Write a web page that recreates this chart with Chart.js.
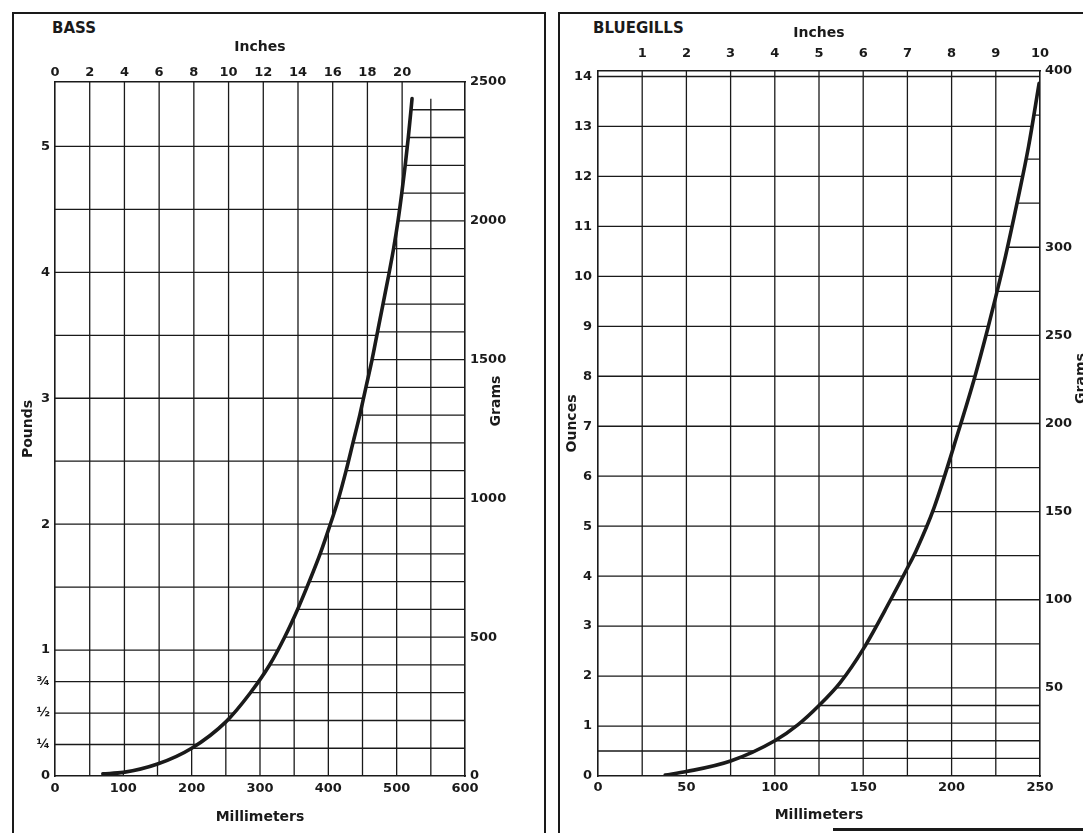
<!DOCTYPE html>
<html>
<head>
<meta charset="utf-8">
<script src="https://cdn.jsdelivr.net/npm/chart.js@4.4.1/dist/chart.umd.min.js"></script>
<style>
    html, body { margin: 0; padding: 0; background: #fff; width: 1083px; height: 833px; overflow: hidden; }
    .frame { position: absolute; border: 2.5px solid #1a1a1a; box-sizing: border-box; }
    .name { position: absolute; font: bold 15px "DejaVu Sans", sans-serif; color: #1a1a1a; line-height: 18px; }
    canvas { position: absolute; }
</style>
</head>
<body>
<div class="frame" style="left:12px; top:12px; width:534px; height:840px;"></div>
<div class="frame" style="left:558px; top:12px; width:560px; height:840px;"></div>
<div style="position:absolute; left:833px; top:828px; width:260px; height:2.5px; background:#1a1a1a;"></div>
<div class="name" style="left:52px; top:19px;">BASS</div>
<div class="name" style="left:593px; top:19px;">BLUEGILLS</div>
<canvas id="bassChart" width="528" height="818" style="left:15px; top:15px;"></canvas>
<canvas id="bluegillChart" width="540" height="818" style="left:560px; top:15px;"></canvas>
<script>
// values (length in mm, weight in grams)
var bassLengthMm = [70, 100, 150, 200, 250, 286, 314, 336, 355, 372, 388, 402, 415, 426, 436, 446, 455, 464, 472, 480, 488, 495.5, 502, 507.5, 512.5, 517, 521, 522.5];
var bassWeightG = [8, 13, 43, 100, 195, 300, 400, 500, 600, 700, 800, 900, 1000, 1100, 1200, 1300, 1400, 1500, 1600, 1700, 1800, 1900, 2000, 2100, 2200, 2300, 2400, 2440];

var bluegillLengthMm = [38, 50, 75, 100, 113, 125, 137, 150, 165, 175, 180, 190, 204, 213, 220.5, 225, 230.5, 237, 243.5, 249.5];
var bluegillWeightG = [0.5, 2.5, 8.5, 20, 29, 40, 53, 72, 99, 118, 128, 152, 196, 226, 254, 272, 295, 325, 357, 393];

// tick labels
var bassMmTicks = [0, 100, 200, 300, 400, 500, 600];
var bassInchTicks = [0, 2, 4, 6, 8, 10, 12, 14, 16, 18, 20];
var bassPoundTicks = [0, 0.25, 0.5, 0.75, 1, 2, 3, 4, 5];
var bassPoundLabels = ['0', '¼', '½', '¾', '1', '2', '3', '4', '5'];
var bassGramTicks = [0, 500, 1000, 1500, 2000, 2500];

var bluegillMmTicks = [0, 50, 100, 150, 200, 250];
var bluegillInchTicks = [1, 2, 3, 4, 5, 6, 7, 8, 9, 10];
var bluegillOunceTicks = [0, 1, 2, 3, 4, 5, 6, 7, 8, 9, 10, 11, 12, 13, 14];
var bluegillGramTicks = [50, 100, 150, 200, 250, 300, 400];

// grid lines: pounds/ounces + inches above the curve, grams + mm below it
var bassPoundGrid = [0.25, 0.5, 0.75, 1, 1.5, 2, 2.5, 3, 3.5, 4, 4.5, 5];
var bassInchGrid = [2, 4, 6, 8, 10, 12, 14, 16, 18, 20];
var bassGramGrid = [100, 200, 300, 400, 500, 600, 700, 800, 900, 1000, 1100, 1200, 1300, 1400, 1500, 1600, 1700, 1800, 1900, 2000, 2100, 2200, 2300, 2400];
var bassMmGrid = [50, 100, 150, 200, 250, 300, 350, 400, 450, 500, 550];

var bluegillOunceGrid = [0.5, 1, 2, 3, 4, 5, 6, 7, 8, 9, 10, 11, 12, 13, 14];
var bluegillInchGrid = [1, 2, 3, 4, 5, 6, 7, 8, 9];
var bluegillGramGrid = [10, 20, 30, 40, 50, 75, 100, 125, 150, 175, 200, 225, 250, 275, 300, 325, 350, 375];
var bluegillMmGrid = [25, 50, 75, 100, 125, 150, 175, 200, 225];

var GRAMS_PER_POUND = 453.592;
var GRAMS_PER_OUNCE = 28.3495;
var MM_PER_INCH = 25.4;
var INK = '#1a1a1a';
var tickFont = { family: '"DejaVu Sans", sans-serif', size: 13, weight: 'bold' };
var titleFont = { family: '"DejaVu Sans", sans-serif', size: 14, weight: 'bold' };

function fixedTicks(values) {
    return function(scale) {
        scale.ticks = values.map(function(v) { return { value: v }; });
    };
}

function fixedSize(prop, size) {
    return function(scale) { scale[prop] = size; };
}

// grid split by the curve: one set of lines on each side of it
var splitGrid = {
    id: 'splitGrid',
    beforeDatasetsDraw: function(chart, args, opts) {
        var ctx = chart.ctx, a = chart.chartArea;
        var pts = chart.getDatasetMeta(0).data;

        function upperRegion() {
            ctx.moveTo(a.left, a.top);
            ctx.lineTo(a.left, a.bottom);
            ctx.lineTo(pts[0].x, a.bottom);
            ctx.lineTo(pts[0].x, pts[0].y);
            for (var i = 1; i < pts.length; i++) {
                var p = pts[i - 1], q = pts[i];
                ctx.bezierCurveTo(p.cp2x, p.cp2y, q.cp1x, q.cp1y, q.x, q.y);
            }
            var last = pts[pts.length - 1];
            ctx.lineTo(a.right, last.y);
            ctx.lineTo(a.right, a.top);
            ctx.closePath();
        }

        function lines(vertical, scale, values) {
            ctx.beginPath();
            values.forEach(function(v) {
                var px = scale.getPixelForValue(v);
                if (vertical) { ctx.moveTo(px, a.top); ctx.lineTo(px, a.bottom); }
                else { ctx.moveTo(a.left, px); ctx.lineTo(a.right, px); }
            });
            ctx.stroke();
        }

        ctx.save();
        ctx.strokeStyle = INK;
        ctx.lineWidth = 1.3;

        ctx.save();
        ctx.beginPath();
        upperRegion();
        ctx.clip();
        lines(false, chart.scales.yL, opts.leftRows);
        lines(true, chart.scales.xTop, opts.topCols);
        ctx.restore();

        ctx.save();
        ctx.beginPath();
        ctx.rect(a.left, a.top, a.right - a.left, a.bottom - a.top);
        upperRegion();
        ctx.clip('evenodd');
        lines(false, chart.scales.yR, opts.rightRows);
        lines(true, chart.scales.x, opts.bottomCols);
        ctx.restore();

        ctx.restore();
    }
};

// rotated title next to the right hand axis, read bottom to top
var rightTitle = {
    id: 'rightTitle',
    afterDraw: function(chart, args, opts) {
        var s = chart.scales.yR, a = chart.chartArea, ctx = chart.ctx;
        ctx.save();
        ctx.translate(s.right - opts.offset, (a.top + a.bottom) / 2 + opts.dy);
        ctx.rotate(-Math.PI / 2);
        ctx.font = 'bold 14px "DejaVu Sans", sans-serif';
        ctx.fillStyle = INK;
        ctx.textAlign = 'center';
        ctx.textBaseline = 'middle';
        ctx.fillText(opts.text, 0, 0);
        ctx.restore();
    }
};

function axisBorder() {
    return { display: true, color: INK, width: 1.6 };
}

function makeChart(id, s) {
    var points = s.lengths.map(function(x, i) { return { x: x, y: s.weights[i] }; });
    return new Chart(document.getElementById(id).getContext('2d'), {
        type: 'line',
        data: {
            datasets: [{
                data: points,
                xAxisID: 'x',
                yAxisID: 'yR',
                borderColor: INK,
                borderWidth: 3.6,
                borderCapStyle: 'round',
                pointRadius: 0,
                cubicInterpolationMode: 'monotone',
                fill: false
            }]
        },
        plugins: [splitGrid, rightTitle],
        options: {
            responsive: false,
            animation: false,
            events: [],
            layout: { padding: 0 },
            plugins: {
                legend: { display: false },
                tooltip: { enabled: false },
                splitGrid: s.grid,
                rightTitle: s.rightTitle
            },
            scales: {
                x: {
                    type: 'linear', position: 'bottom', min: 0, max: s.mmMax,
                    afterBuildTicks: fixedTicks(s.mmTicks),
                    afterFit: fixedSize('height', s.bottomH),
                    grid: { display: false, drawTicks: false },
                    border: axisBorder(),
                    ticks: { color: INK, font: tickFont, padding: s.bottomPad, autoSkip: false, maxRotation: 0 },
                    title: { display: true, text: 'Millimeters', color: INK, font: titleFont, padding: { top: 0, bottom: s.mmTitlePad } }
                },
                xTop: {
                    type: 'linear', position: 'top', min: 0, max: s.inchMax,
                    afterBuildTicks: fixedTicks(s.inchTicks),
                    afterFit: fixedSize('height', s.topH),
                    grid: { display: false, drawTicks: false },
                    border: axisBorder(),
                    ticks: { color: INK, font: tickFont, padding: s.topPad, autoSkip: false, maxRotation: 0 },
                    title: { display: true, text: 'Inches', color: INK, font: titleFont, padding: { top: s.inchTitlePad, bottom: 0 } }
                },
                yL: {
                    type: 'linear', position: 'left', min: 0, max: s.leftMax,
                    afterBuildTicks: fixedTicks(s.leftTicks),
                    afterFit: fixedSize('width', s.leftW),
                    grid: { display: false, drawTicks: false },
                    border: axisBorder(),
                    ticks: {
                        color: INK, font: tickFont, padding: s.leftPad, autoSkip: false,
                        callback: function(v, i) { return s.leftLabels ? s.leftLabels[i] : String(v); }
                    },
                    title: { display: true, text: s.leftTitle, color: INK, font: titleFont, padding: { top: s.leftTitlePad, bottom: 0 } }
                },
                yR: {
                    type: 'linear', position: 'right', min: 0, max: s.gramMax,
                    afterBuildTicks: fixedTicks(s.gramTicks),
                    afterFit: fixedSize('width', s.rightW),
                    grid: { display: false, drawTicks: false },
                    border: axisBorder(),
                    ticks: {
                        color: INK, font: tickFont, padding: s.rightPad, autoSkip: false,
                        callback: function(v) { return String(v); }
                    }
                }
            }
        }
    });
}

var bassChart = makeChart('bassChart', {
    lengths: bassLengthMm, weights: bassWeightG,
    mmMax: 600, mmTicks: bassMmTicks,
    inchMax: 600 / MM_PER_INCH, inchTicks: bassInchTicks,
    leftMax: 2500 / GRAMS_PER_POUND, leftTicks: bassPoundTicks, leftLabels: bassPoundLabels, leftTitle: 'Pounds',
    gramMax: 2500, gramTicks: bassGramTicks,
    leftW: 40, rightW: 78, topH: 67, bottomH: 57,
    bottomPad: 5, topPad: 2, leftPad: 5, rightPad: 5,
    mmTitlePad: 7, inchTitlePad: 24, leftTitlePad: 5,
    grid: { leftRows: bassPoundGrid, topCols: bassInchGrid, rightRows: bassGramGrid, bottomCols: bassMmGrid },
    rightTitle: { text: 'Grams', offset: 47, dy: -28 }
});

var bluegillChart = makeChart('bluegillChart', {
    lengths: bluegillLengthMm, weights: bluegillWeightG,
    mmMax: 250, mmTicks: bluegillMmTicks,
    inchMax: 10, inchTicks: bluegillInchTicks,
    leftMax: 400 / GRAMS_PER_OUNCE, leftTicks: bluegillOunceTicks, leftLabels: null, leftTitle: 'Ounces',
    gramMax: 400, gramTicks: bluegillGramTicks,
    leftW: 38, rightW: 60, topH: 56, bottomH: 57,
    bottomPad: 4, topPad: 10, leftPad: 6, rightPad: 5,
    mmTitlePad: 9, inchTitlePad: 10, leftTitlePad: 4,
    grid: { leftRows: bluegillOunceGrid, topCols: bluegillInchGrid, rightRows: bluegillGramGrid, bottomCols: bluegillMmGrid },
    rightTitle: { text: 'Grams', offset: 19, dy: -45 }
});
</script>
</body>
</html>
